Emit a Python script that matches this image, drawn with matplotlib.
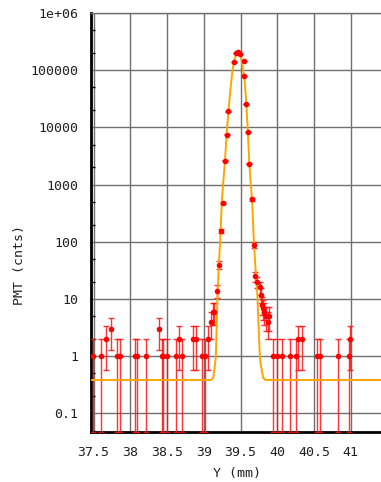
import numpy as np
import matplotlib
matplotlib.use("Agg")
import matplotlib.pyplot as plt
from matplotlib.ticker import FixedLocator, NullFormatter

# ---- data ----
pos_mm = [37.497, 37.606, 37.67, 37.734, 37.823, 37.86, 38.06, 38.09, 38.213,
          38.394, 38.43, 38.45, 38.495, 38.62, 38.665, 38.70, 38.856, 38.893,
          38.97, 39.01, 39.06, 39.096, 39.12, 39.145, 39.18, 39.20, 39.232,
          39.255, 39.291, 39.31, 39.332, 39.413, 39.44, 39.46, 39.49, 39.545,
          39.549, 39.579, 39.599, 39.617, 39.66, 39.68, 39.694, 39.726, 39.76,
          39.775, 39.785, 39.80, 39.82, 39.85, 39.87, 39.89, 39.943, 39.997,
          40.057, 40.17, 40.25, 40.28, 40.33, 40.54, 40.58, 40.83, 40.975, 40.985]
counts = [1, 1, 2, 3, 1, 1, 1, 1, 1,
          3, 1, 1, 1, 1, 2, 1, 2, 2,
          1, 1, 2, 4, 6, 6, 14, 40, 156,
          480, 2600, 7500, 19000, 140000, 200000, 210000, 190000, 145000,
          79000, 26000, 8300, 2300, 550, 89, 25, 20, 16,
          12, 8, 7, 6, 5, 4, 5, 1, 1,
          1, 1, 1, 2, 2, 1, 1, 1, 1, 2]

fit_x = [37.466, 39.10, 39.128, 39.151, 39.164, 39.185, 39.205, 39.222,
         39.245, 39.262, 39.288, 39.31, 39.335, 39.365, 39.39, 39.415,
         39.46, 39.50, 39.535, 39.555, 39.575, 39.598, 39.618, 39.64,
         39.66, 39.681, 39.71, 39.728, 39.762, 39.776, 39.807, 39.84, 41.41]
fit_y = [0.385, 0.385, 0.42, 0.7, 1.0, 10, 40, 100,
         480, 1000, 2600, 7500, 19000, 50000, 100000, 150000,
         220000, 190000, 100000, 70000, 30000, 9000, 2500, 1000,
         450, 100, 25, 12, 1.0, 0.7, 0.42, 0.385, 0.385]

y_ticks = [0.1, 1, 10, 100, 1000, 10000, 100000, 1000000]
y_tick_labels = ["0.1", "1", "10", "100", "1000", "10000", "100000", "1e+06"]
x_ticks = [37.5, 38, 38.5, 39, 39.5, 40, 40.5, 41]
x_tick_labels = ["37.5", "38", "38.5", "39", "39.5", "40", "40.5", "41"]

XMIN, XMAX = 37.466, 41.41
YMIN, YMAX = 0.048, 1e6

plt.rcParams['font.family'] = ['DejaVu Sans Mono']

W, H = 381, 482
fig = plt.figure(figsize=(W / 100, H / 100), dpi=100)
ax = fig.add_axes([91 / W, (H - 431.7) / H, (W - 91) / W, (431.7 - 13) / H])
ax.set_yscale('log')
ax.set_xlim(XMIN, XMAX)
ax.set_ylim(YMIN, YMAX)

c = np.array(counts, dtype=float)
err = np.sqrt(c)
lower = np.where(c - err <= 0, c - YMIN, err)
ax.errorbar(pos_mm, c, yerr=[lower, err], fmt='none', ecolor='#ff1010',
            elinewidth=1.0, capsize=2.2, capthick=1.0, zorder=3, alpha=0.85)
ax.plot(fit_x, fit_y, color='#ffa500', lw=1.4, zorder=4)
ax.plot(pos_mm, c, linestyle='none', marker='o', ms=3.0, color='#ff0000',
        mec='#ff0000', zorder=5)

ax.yaxis.set_major_locator(FixedLocator(y_ticks))
ax.set_yticklabels(y_tick_labels)
minor = []
for d in range(-2, 6):
    for m in (2, 5):
        v = m * 10.0 ** d
        if YMIN < v < YMAX:
            minor.append(v)
ax.yaxis.set_minor_locator(FixedLocator(minor))
ax.yaxis.set_minor_formatter(NullFormatter())
ax.set_xticks(x_ticks)
ax.set_xticklabels(x_tick_labels)
ax.tick_params(axis='both', which='major', length=0, labelsize=9.5, colors='#202020')
ax.tick_params(axis='y', which='major', pad=9)
ax.tick_params(axis='x', which='major', pad=10)
ax.tick_params(axis='y', which='minor', direction='in', length=3, width=1, color='black')

ax.grid(True, which='major', color='#707070', lw=1.0)
ax.set_axisbelow(True)
for s in ('left', 'bottom'):
    ax.spines[s].set_linewidth(2)
    ax.spines[s].set_color('black')
ax.spines['top'].set_color('#707070')
ax.spines['top'].set_linewidth(1)
ax.spines['right'].set_visible(False)

fig.text(20 / W, 1 - 265 / H, "PMT (cnts)", rotation=90, ha='center', va='center',
         fontsize=9.5, color='#202020')
fig.text(237 / W, 1 - 474 / H, "Y (mm)", ha='center', va='center',
         fontsize=9.5, color='#202020')

fig.savefig("out.png", dpi=100)
